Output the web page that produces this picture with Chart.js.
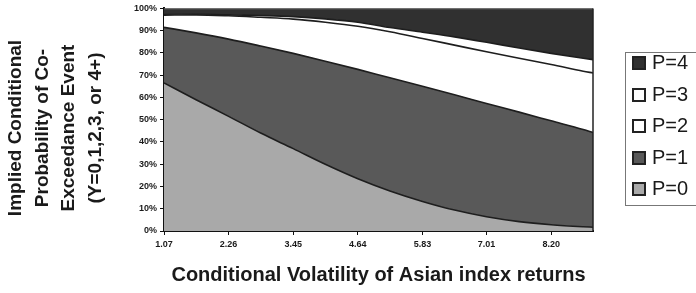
<!DOCTYPE html>
<html>
<head>
<meta charset="utf-8">
<script src="https://cdn.jsdelivr.net/npm/chart.js@4/dist/chart.umd.min.js"></script>
<style>
  html, body { margin: 0; padding: 0; background: #fff; }
  #wrap { position: relative; width: 696px; height: 293px; overflow: hidden; }
  #legend { position: absolute; left: 625px; top: 52px; width: 70px; height: 152px;
            border: 1px solid #777; background: #fff; font-family: "Liberation Sans", Arial, sans-serif; }
  .item { position: absolute; left: 6px; height: 20px; line-height: 20px; font-size: 20px; color: #1a1a1a; white-space: nowrap; }
  .mk { position: absolute; left: 0; top: 3px; width: 10px; height: 10px; border: 2px solid #222; }
  .lb { position: absolute; left: 20px; top: -1px; }
</style>
</head>
<body>
<div id="wrap">
  <canvas id="c" width="696" height="293"></canvas>
  <div id="legend"></div>
</div>
<script>
// ---- data ----
const xValues = [1.07, 1.66, 2.26, 2.85, 3.45, 4.04, 4.64, 5.23, 5.83, 6.42, 7.01, 7.61, 8.20, 8.79, 8.97];
const p0 = [66.5, 59.0, 51.5, 44.0, 37.0, 30.0, 23.5, 18.0, 13.3, 9.4, 6.4, 4.2, 2.8, 1.9, 1.7];
const p1 = [25.0, 30.0, 34.7, 39.1, 42.8, 46.3, 49.1, 50.8, 51.7, 51.8, 50.9, 49.2, 46.7, 43.7, 42.5];
const p2 = [5.5, 8.1, 10.5, 12.9, 15.4, 17.5, 19.4, 20.7, 21.5, 22.3, 23.2, 24.2, 25.3, 26.2, 26.8];
const p3 = [0.2, 0.2, 0.4, 0.8, 1.1, 1.5, 1.8, 1.9, 2.8, 3.7, 4.3, 4.6, 5.0, 5.8, 6.0];
const p4 = [2.8, 2.7, 2.9, 3.2, 3.7, 4.7, 6.2, 8.6, 10.7, 12.8, 15.2, 17.8, 20.2, 22.4, 23.0];
const seriesLabels = ['P=0', 'P=1', 'P=2', 'P=3', 'P=4'];
const xTickValues = [1.07, 2.26, 3.45, 4.64, 5.83, 7.01, 8.20];
const xTickLabels = ['1.07', '2.26', '3.45', '4.64', '5.83', '7.01', '8.20'];
const yTitleLines = ['Implied Conditional', 'Probability of Co-', 'Exceedance Event', '(Y=0,1,2,3, or 4+)'];
const xTitle = 'Conditional Volatility of Asian index returns';

const fills = ['#a9a9a9', '#595959', '#ffffff', '#ffffff', '#303030'];
const FONT = '"Liberation Sans", Arial, sans-serif';
const TEXT = '#1a1a1a';

const seriesValues = [p0, p1, p2, p3, p4];
const datasets = seriesValues.map((vals, i) => ({
  label: seriesLabels[i],
  data: vals.map((v, k) => ({ x: xValues[k], y: v })),
  backgroundColor: fills[i],
  borderColor: '#1e1e1e',
  borderWidth: 1.6,
  pointRadius: 0,
  cubicInterpolationMode: 'monotone',
  fill: i === 0 ? 'origin' : '-1'
}));

const yTitlePlugin = {
  id: 'yTitle',
  afterDraw(chart) {
    const ctx = chart.ctx;
    ctx.save();
    ctx.fillStyle = TEXT;
    ctx.font = 'bold 19px ' + FONT;
    ctx.textAlign = 'center';
    ctx.textBaseline = 'middle';
    const xs = [16, 42.5, 69, 95.5];
    yTitleLines.forEach((t, i) => {
      ctx.save();
      ctx.translate(xs[i], 128);
      ctx.rotate(-Math.PI / 2);
      ctx.fillText(t, 0, 0);
      ctx.restore();
    });
    // plot area frame (top and right)
    const a = chart.chartArea;
    ctx.strokeStyle = '#666';
    ctx.lineWidth = 1;
    ctx.beginPath();
    ctx.moveTo(a.left, a.top + 0.5);
    ctx.lineTo(a.right, a.top + 0.5);
    ctx.stroke();
    ctx.strokeStyle = '#222';
    ctx.lineWidth = 1.5;
    ctx.beginPath();
    ctx.moveTo(a.right, a.top);
    ctx.lineTo(a.right, a.bottom);
    ctx.stroke();
    ctx.restore();
  }
};

new Chart(document.getElementById('c'), {
  type: 'line',
  data: { datasets },
  plugins: [yTitlePlugin],
  options: {
    responsive: false,
    animation: false,
    layout: { padding: { left: 0, right: 103, top: 7, bottom: 0 } },
    plugins: { legend: { display: false }, tooltip: { enabled: false } },
    scales: {
      x: {
        type: 'linear',
        min: 1.07,
        max: 8.97,
        afterFit(s) { s.height = 62; },
        afterBuildTicks(s) { s.ticks = xTickValues.map(v => ({ value: v })); },
        ticks: {
          autoSkip: false,
          maxRotation: 0,
          padding: 4,
          color: TEXT,
          font: { family: FONT, size: 9, weight: 'bold' },
          callback: (v, i) => xTickLabels[i]
        },
        grid: { display: true, drawOnChartArea: false, drawTicks: true, tickLength: 4, color: '#111' },
        border: { display: true, color: '#111', width: 2 },
        title: {
          display: true,
          text: xTitle,
          color: TEXT,
          font: { family: FONT, size: 20, weight: 'bold' },
          padding: { top: 0, bottom: 6 }
        }
      },
      y: {
        stacked: true,
        min: 0,
        max: 100,
        afterFit(s) { s.width = 164; },
        ticks: {
          stepSize: 10,
          padding: 3,
          color: TEXT,
          font: { family: FONT, size: 9, weight: 'bold' },
          callback: v => v + '%'
        },
        grid: { display: true, drawOnChartArea: false, drawTicks: true, tickLength: 4, color: '#111' },
        border: { display: true, color: '#111', width: 2 }
      }
    }
  }
});

// HTML legend (P=4 on top)
const lg = document.getElementById('legend');
for (let j = 0; j < seriesLabels.length; j++) {
  const i = seriesLabels.length - 1 - j;
  const it = document.createElement('div');
  it.className = 'item';
  it.style.top = (j * 31.6) + 'px';
  const mk = document.createElement('span');
  mk.className = 'mk';
  mk.style.background = fills[i];
  const lb = document.createElement('span');
  lb.className = 'lb';
  lb.textContent = seriesLabels[i];
  it.appendChild(mk); it.appendChild(lb);
  lg.appendChild(it);
}
</script>
</body>
</html>
